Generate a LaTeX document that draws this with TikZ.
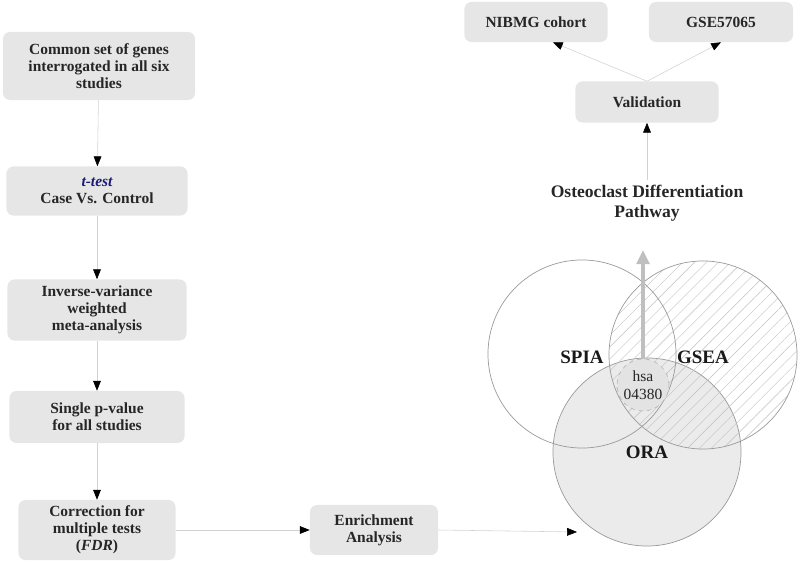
\documentclass[tikz,border=0pt]{standalone}
\usepackage{fontspec}
\setmainfont{Liberation Serif}
\usetikzlibrary{arrows.meta,patterns.meta}
\definecolor{boxgray}{HTML}{E6E6E6}
\definecolor{linegray}{HTML}{D2D2D2}
\definecolor{ringgray}{HTML}{9A9A9A}
\definecolor{oragray}{HTML}{EBEBEB}
\definecolor{testblue}{HTML}{1C1C78}
\tikzset{>={Triangle[length=7pt,width=5.5pt,black]}}
\tikzset{
  stepbox/.style={fill=boxgray, rounded corners=5pt, align=center, font=\fontsize{11}{12.2}\selectfont\bfseries, inner sep=0pt, text=black!85},
  flow/.style={draw=linegray, ->},
  setring/.style={circle, draw=ringgray, minimum size=4.7cm, inner sep=0pt, line width=0.5pt},
  setname/.style={font=\fontsize{13.5}{15}\selectfont\bfseries, text=black!90}
}

\begin{document}
\begin{tikzpicture}[x=0.025cm, y=-0.025cm]
\useasboundingbox (0,0) rectangle (800,563);

\node[stepbox, minimum width=4.8cm, minimum height=1.7cm] (common) at (99,66) {Common set of genes\\interrogated in all six\\studies};
\node[stepbox, minimum width=4.525cm, minimum height=1.225cm] (ttest) at (97,191) {{\color{testblue}\itshape t-test}\\Case Vs. Control};
\node[stepbox, minimum width=4.475cm, minimum height=1.525cm] (inverse) at (97,310) {Inverse-variance\\weighted\\meta-analysis};
\node[stepbox, minimum width=4.375cm, minimum height=1.3cm] (single) at (97,417) {Single p-value\\for all studies};
\node[stepbox, minimum width=3.925cm, minimum height=1.5cm] (correction) at (97,530) {Correction for\\multiple tests\\(\textit{FDR})};
\node[stepbox, minimum width=3.2cm, minimum height=1.25cm] (enrich) at (374,530) {Enrichment\\Analysis};
\node[stepbox, minimum width=3.575cm, minimum height=1.025cm] (valid) at (647,102) {Validation};
\node[stepbox, minimum width=3.575cm, minimum height=1cm] (nibmg) at (536,22) {NIBMG cohort};
\node[stepbox, minimum width=3.6cm, minimum height=1cm] (gse) at (721,22) {GSE57065};
\node[font=\fontsize{12.5}{14.5}\selectfont\bfseries, align=center, text=black!85] (osteo) at (647,203) {Osteoclast Differentiation\\Pathway};

% Venn diagram of the three enrichment methods
\node[setring, fill=oragray] (ora) at (647,452) {};
\node[setring, pattern={Lines[angle=45,distance=6pt,line width=0.3pt]}, pattern color=black!25] (gsea) at (703,355) {};
\node[setring] (spia) at (582,354) {};
\node[circle, draw=black!30, dashed, fill=black!11, minimum size=1.3cm, inner sep=0pt] (hsa) at (643,385) {};
\node[align=center, font=\fontsize{11}{12.5}\selectfont, text=black!85] (hsalabel) at (643,385) {hsa\\04380};
\node[setname] (spialabel) at (582,357) {SPIA};
\node[setname] (gsealabel) at (703,357) {GSEA};
\node[setname] (oralabel) at (647,452) {ORA};
\coordinate (orahit) at (577,532);
\coordinate (pathtip) at (643,250);

\draw[flow] (common) to (ttest);
\draw[flow] (ttest) to (inverse);
\draw[flow] (inverse) to (single);
\draw[flow] (single) to (correction);
\draw[flow] (correction) to (enrich);
\draw[flow] (enrich.east) to (orahit);
\draw[draw=black!25, line width=3pt, -{Triangle[length=10pt,width=9pt,black!25]}] (hsa.north) to (pathtip);
\draw[flow] (osteo.north) to (valid.south);
\draw[flow] (valid.north) to ([xshift=12]nibmg.south);
\draw[flow] (valid.north) to (gse.south);
\end{tikzpicture}
\end{document}
